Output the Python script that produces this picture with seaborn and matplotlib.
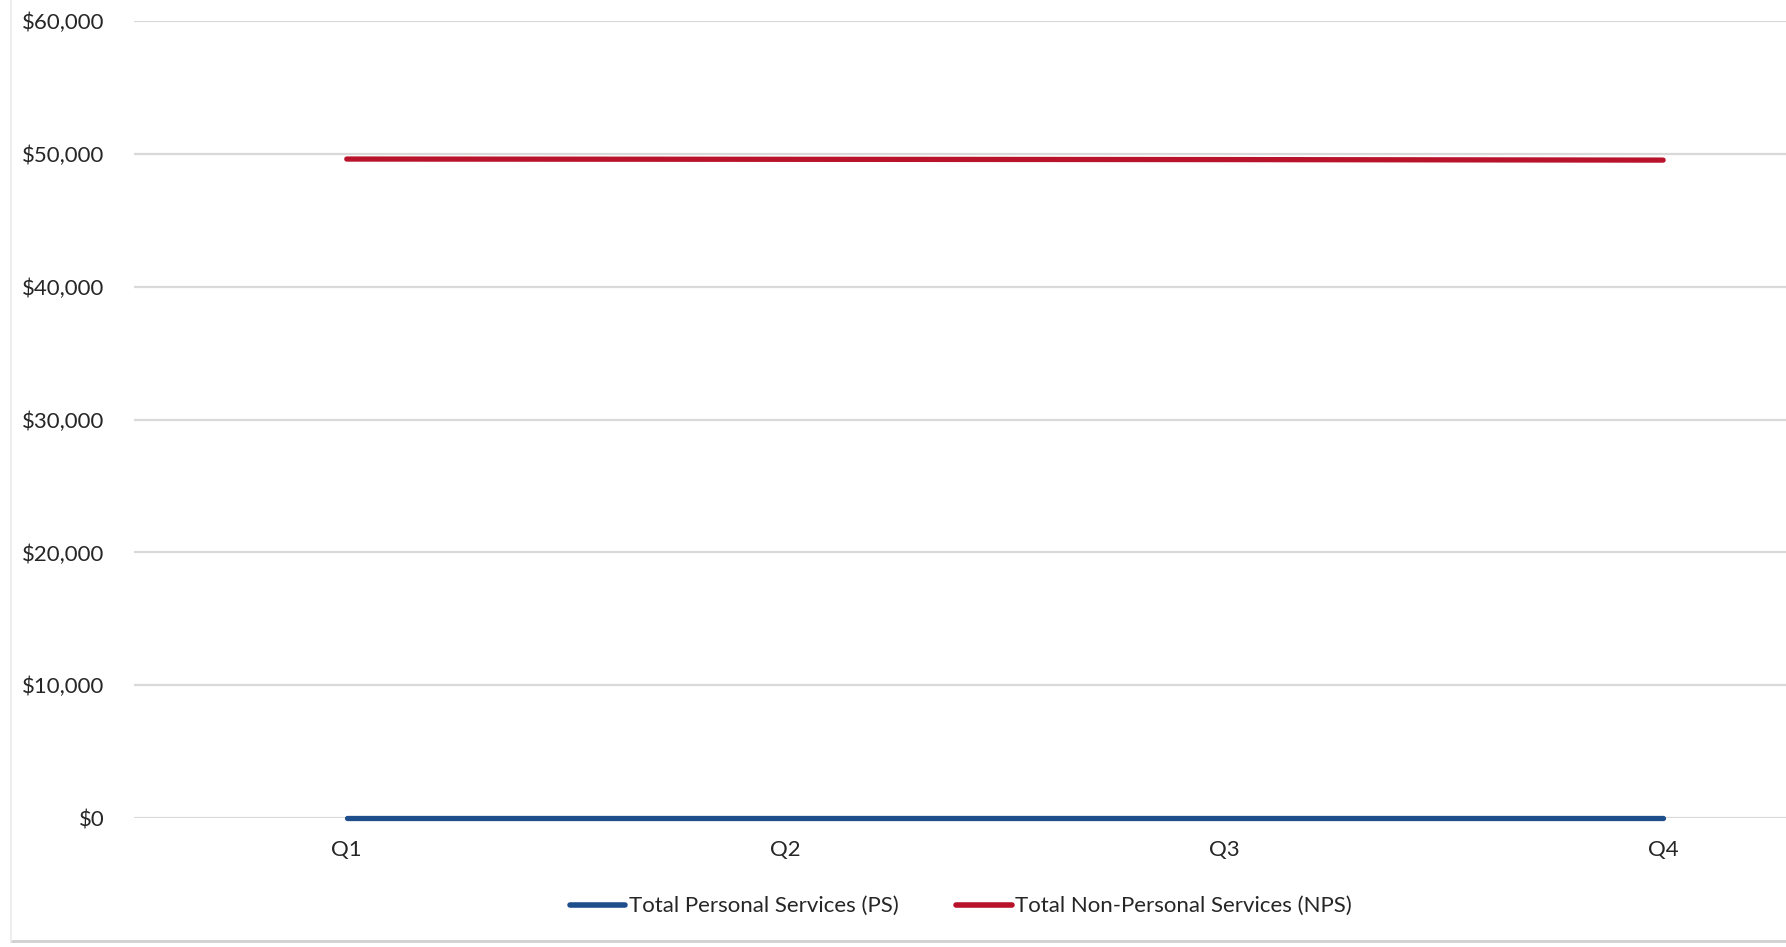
import matplotlib
matplotlib.use("Agg")
import matplotlib.pyplot as plt
import seaborn as sns
import pandas as pd
from matplotlib.lines import Line2D
from matplotlib.ticker import FuncFormatter

quarters = ["Q1", "Q2", "Q3", "Q4"]
ps_values = [0, 0, 0, 0]
nps_values = [49600, 49580, 49560, 49520]
series_names = ["Total Personal Services (PS)", "Total Non-Personal Services (NPS)"]
y_ticks = [0, 10000, 20000, 30000, 40000, 50000, 60000]

df = pd.DataFrame({
    "Quarter": quarters * 2,
    "Value": ps_values + nps_values,
    "Series": [series_names[0]] * 4 + [series_names[1]] * 4,
})

sns.set_theme(style="white")
plt.rcParams["font.family"] = ["Lato", "DejaVu Sans"]

fig = plt.figure(figsize=(17.86, 9.47), dpi=100)
ax = fig.add_axes([0.075, 0.136, 0.925, 0.842])

palette = {series_names[0]: "#1F4E8C", series_names[1]: "#B8132B"}
sns.lineplot(data=df, x="Quarter", y="Value", hue="Series", palette=palette,
             linewidth=3.8, ax=ax, legend=False, sort=False)
for ln in ax.lines:
    ln.set_clip_on(False)
    ln.set_solid_capstyle("round")
    ln.set_zorder(3)

ax.set_xlim(-0.485, 3.28)
ax.set_ylim(0, 60000)
ax.set_yticks(y_ticks)
ax.yaxis.set_major_formatter(FuncFormatter(lambda v, p: f"${v:,.0f}"))
ax.grid(axis="y", color="#d9d9d9", linewidth=1.6)
ax.grid(axis="x", visible=False)
for s in ax.spines.values():
    s.set_visible(False)
ax.tick_params(axis="y", length=0, pad=21, labelsize=16, labelcolor="#262626")
ax.tick_params(axis="x", length=0, pad=16, labelsize=16, labelcolor="#262626")
ax.set_xlabel("")
ax.set_ylabel("")

handles = [Line2D([0], [0], color=palette[n], linewidth=4, solid_capstyle="round") for n in series_names]
fig.legend(handles, series_names, loc="center", bbox_to_anchor=(0.538, 0.043),
           ncol=2, frameon=False, fontsize=16, handlelength=2.5,
           handletextpad=0.15, columnspacing=2.6, labelcolor="#262626")

fig.add_artist(Line2D([0.006, 1.0], [0.006, 0.006], color="#d0d0d0", linewidth=2, transform=fig.transFigure))
fig.add_artist(Line2D([0.006, 0.006], [0.006, 1.0], color="#eeeeee", linewidth=1.5, transform=fig.transFigure))

fig.savefig("out.png", dpi=100, facecolor="white")
